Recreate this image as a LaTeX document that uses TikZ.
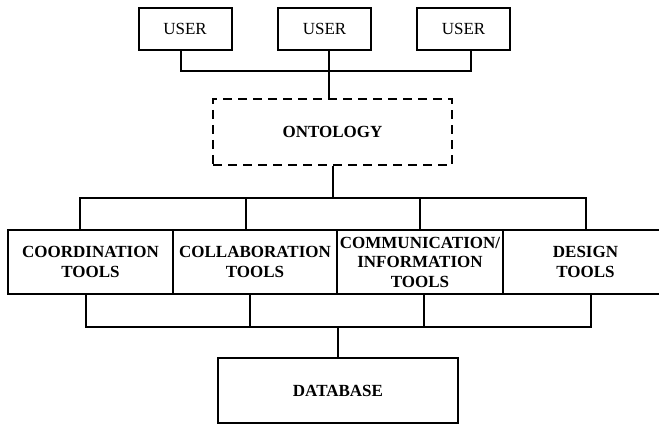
\documentclass[tikz,border=0pt]{standalone}
\usepackage{fontspec}
\setmainfont{Liberation Serif}
\begin{document}
\begin{tikzpicture}[x=1pt,y=-1pt,
  box/.style={draw, line width=2pt, rectangle, inner sep=0pt, align=center,
    font=\fontsize{17}{19.5}\selectfont},
  userbox/.style={box, minimum width=93pt, minimum height=42pt},
  toolbox/.style={box, minimum width=165pt, minimum height=64pt, font=\fontsize{17}{19.5}\selectfont\bfseries},
  dashbox/.style={box, dash pattern=on 9pt off 6pt, minimum width=239pt, minimum height=66pt, font=\fontsize{17}{19.5}\selectfont\bfseries},
  dbbox/.style={box, minimum width=240pt, minimum height=65pt, font=\fontsize{17}{19.5}\selectfont\bfseries},
  link/.style={draw, line width=1.1pt}]
\useasboundingbox (0,0) rectangle (659,425);
\clip (0,0) rectangle (659,425);

% users
\node[userbox] (u1) at (185,29) {USER};
\node[userbox] (u2) at (324.5,29) {USER};
\node[userbox] (u3) at (463.5,29) {USER};

% ontology
\node[dashbox] (ont) at (332.5,132) {ONTOLOGY};

% tools row
\node[toolbox, minimum width=165pt] (t1) at (90.5,262) {COORDINATION\\TOOLS};
\node[toolbox, minimum width=164pt] (t2) at (255,262) {COLLABORATION\\TOOLS};
\node[toolbox, minimum width=166pt] (t3) at (420,262) {COMMUNICATION/\\INFORMATION\\TOOLS};
\node[toolbox, minimum width=165pt] (t4) at (585.5,262) {DESIGN\\TOOLS};

% database
\node[dbbox] (db) at (338,390.5) {DATABASE};

% users to ontology
\coordinate (ubus) at (0,71);
\draw[link] ([xshift=-4pt]u1.south) |- ([xshift=7.5pt]u3.south |- ubus) -- ([xshift=7.5pt]u3.south);
\draw[link] ([xshift=4.5pt]u2.south) -- ([xshift=4.5pt]u2.south |- ont.north);

% ontology to tools
\coordinate (tbus) at (0,198);
\draw[link] ([xshift=0.5pt]ont.south) -- ([xshift=0.5pt]ont.south |- tbus);
\draw[link] ([xshift=-10.5pt]t1.north) |- ([xshift=0.5pt]t4.north |- tbus) -- ([xshift=0.5pt]t4.north);
\draw[link] ([xshift=-9pt]t2.north) -- ([xshift=-9pt]t2.north |- tbus);
\draw[link] (t3.north) -- (t3.north |- tbus);

% tools to database
\coordinate (bbus) at (0,327);
\draw[link] ([xshift=-4.5pt]t1.south) |- ([xshift=5.5pt]t4.south |- bbus) -- ([xshift=5.5pt]t4.south);
\draw[link] ([xshift=-5pt]t2.south) -- ([xshift=-5pt]t2.south |- bbus);
\draw[link] ([xshift=4pt]t3.south) -- ([xshift=4pt]t3.south |- bbus);
\draw[link] (db.north) -- (db.north |- bbus);
\end{tikzpicture}
\end{document}
